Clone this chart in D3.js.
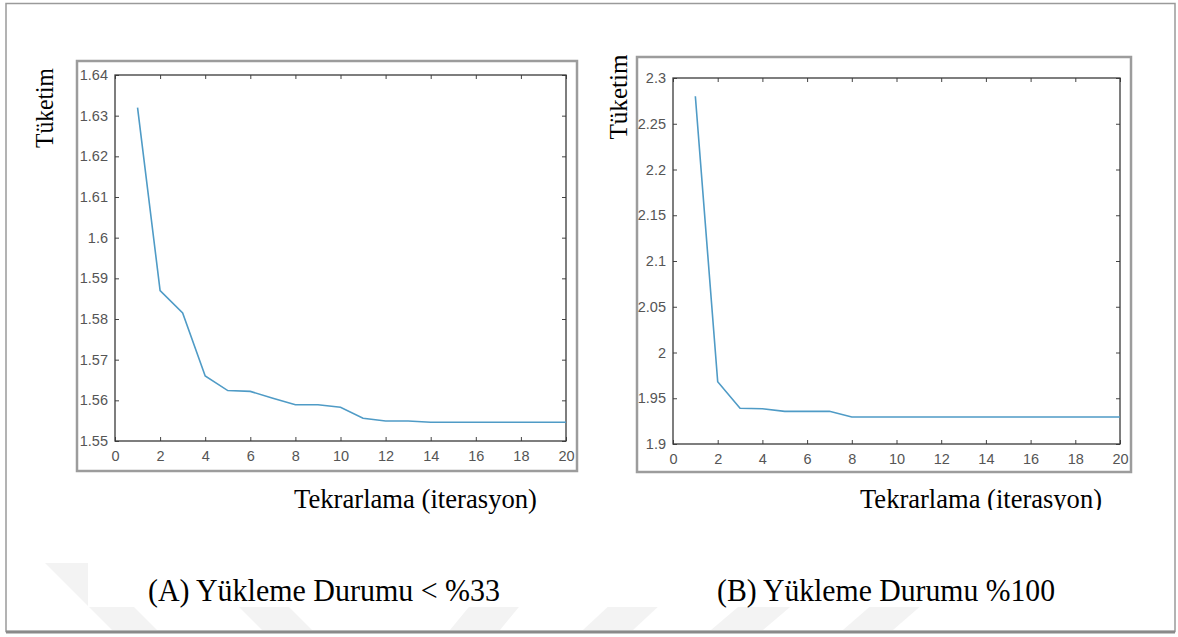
<!DOCTYPE html>
<meta charset="utf-8">
<script src="https://d3js.org/d3.v7.min.js"></script>
<style>
  body { margin: 0; background: #fff; }
  .tick text { font-family: "Liberation Sans", Arial, sans-serif; font-size: 14.5px; fill: #555; }
  .tick line { stroke: #444; }
</style>
<div id="chart"></div>
<script>
// values
var iterations = [1, 2, 3, 4, 5, 6, 7, 8, 9, 10, 11, 12, 13, 14, 15, 16, 17, 18, 19, 20];
var consumptionLow = [1.632, 1.587, 1.5815, 1.566, 1.5624, 1.5622, 1.5605, 1.5589, 1.5589, 1.5583,
                      1.5556, 1.5549, 1.5549, 1.5546, 1.5546, 1.5546, 1.5546, 1.5546, 1.5546, 1.5546];
var consumptionFull = [2.28, 1.968, 1.939, 1.9385, 1.9357, 1.9357, 1.9357, 1.9295, 1.9295, 1.9295,
                       1.9295, 1.9295, 1.9295, 1.9295, 1.9295, 1.9295, 1.9295, 1.9295, 1.9295, 1.9295];
var xTicks = [0, 2, 4, 6, 8, 10, 12, 14, 16, 18, 20];
var yTicksLow = [1.55, 1.56, 1.57, 1.58, 1.59, 1.6, 1.61, 1.62, 1.63, 1.64];
var yTicksFull = [1.9, 1.95, 2, 2.05, 2.1, 2.15, 2.2, 2.25, 2.3];
var yLabel = "Tüketim";
var xLabel = "Tekrarlama (iterasyon)";
var captions = ["(A) Yükleme Durumu < %33", "(B) Yükleme Durumu %100"];

var W = 1178, H = 637;
var serifFont = "'Liberation Serif', 'Times New Roman', serif";

var svg = d3.select("#chart")
  .append("svg")
    .attr("width", W)
    .attr("height", H);

// page frame
svg.append("rect")
  .attr("x", 6).attr("y", 3.5)
  .attr("width", 1169).attr("height", 628)
  .attr("fill", "#fff")
  .attr("stroke", "#9a9a9a")
  .attr("stroke-width", 1.5);
svg.append("line")
  .attr("x1", 6).attr("x2", 1175)
  .attr("y1", 632).attr("y2", 632)
  .attr("stroke", "#8a8a8a")
  .attr("stroke-width", 3);

// faint watermark stripes at the bottom
var wm = svg.append("g").attr("fill", "#f3f3f3");
var stripes = [
  [[45, 563], [90, 563], [157, 630], [112, 630]],
  [[195, 563], [245, 563], [312, 630], [262, 630]],
  [[505, 563], [555, 563], [500, 630], [450, 630]],
  [[655, 563], [705, 563], [633, 630], [583, 630]],
  [[790, 563], [842, 563], [763, 630], [711, 630]],
  [[920, 563], [970, 563], [893, 630], [843, 630]]
];
wm.selectAll("polygon")
  .data(stripes)
  .enter()
  .append("polygon")
    .attr("points", function(d){ return d.map(function(p){ return p.join(","); }).join(" "); });
// white band behind the captions
svg.append("rect")
  .attr("x", 88).attr("y", 562)
  .attr("width", 1080).attr("height", 45)
  .attr("fill", "#fff");

function drawPanel(cfg) {
  var g = svg.append("g");

  // figure box
  g.append("rect")
    .attr("x", cfg.box[0]).attr("y", cfg.box[1])
    .attr("width", cfg.box[2]).attr("height", cfg.box[3])
    .attr("fill", "#fff")
    .attr("stroke", "#9c9c9c")
    .attr("stroke-width", 2.5);

  var x = d3.scaleLinear().domain([0, 20]).range([cfg.plot[0], cfg.plot[1]]);
  var y = d3.scaleLinear().domain(cfg.yDomain).range([cfg.plot[3], cfg.plot[2]]);

  var fmt = function(d){ return String(d); };

  g.append("g")
    .attr("transform", "translate(0," + cfg.plot[3] + ")")
    .call(d3.axisBottom(x).tickValues(xTicks).tickFormat(fmt).tickSizeInner(-4).tickSizeOuter(0).tickPadding(10))
    .call(function(a){ a.select(".domain").remove(); });
  g.append("g")
    .attr("transform", "translate(0," + cfg.plot[2] + ")")
    .call(d3.axisTop(x).tickValues(xTicks).tickFormat("").tickSizeInner(-4).tickSizeOuter(0))
    .call(function(a){ a.select(".domain").remove(); });
  g.append("g")
    .attr("transform", "translate(" + cfg.plot[0] + ",0)")
    .call(d3.axisLeft(y).tickValues(cfg.yTicks).tickFormat(fmt).tickSizeInner(-4).tickSizeOuter(0).tickPadding(7))
    .call(function(a){ a.select(".domain").remove(); });
  g.append("g")
    .attr("transform", "translate(" + cfg.plot[1] + ",0)")
    .call(d3.axisRight(y).tickValues(cfg.yTicks).tickFormat("").tickSizeInner(-4).tickSizeOuter(0))
    .call(function(a){ a.select(".domain").remove(); });

  // plot box
  g.append("rect")
    .attr("x", cfg.plot[0]).attr("y", cfg.plot[2])
    .attr("width", cfg.plot[1] - cfg.plot[0]).attr("height", cfg.plot[3] - cfg.plot[2])
    .attr("fill", "none")
    .attr("stroke", "#3a3a3a")
    .attr("stroke-width", 1.3);

  var line = d3.line()
    .x(function(d, i){ return x(iterations[i]); })
    .y(function(d){ return y(d); });

  g.append("path")
    .datum(cfg.values)
    .attr("d", line)
    .attr("fill", "none")
    .attr("stroke", "#4f9bc6")
    .attr("stroke-width", 1.6);

  // y label
  g.append("text")
    .attr("transform", "translate(" + cfg.yLab[0] + "," + cfg.yLab[1] + ") rotate(-90)")
    .attr("text-anchor", "middle")
    .style("font-family", serifFont)
    .style("font-size", "25px")
    .attr("fill", "#000")
    .attr("textLength", cfg.yLab[2])
    .attr("lengthAdjust", "spacingAndGlyphs")
    .text(yLabel);

  // x label (clipped at the bottom on the right panel)
  var xl = g.append("text")
    .attr("x", cfg.xLab[0]).attr("y", cfg.xLab[1])
    .style("font-family", serifFont)
    .style("font-size", "28px")
    .attr("fill", "#000")
    .attr("textLength", cfg.xLab[2])
    .attr("lengthAdjust", "spacingAndGlyphs")
    .text(xLabel);
  if (cfg.clipY) {
    var id = "clip" + cfg.id;
    svg.append("clipPath").attr("id", id)
      .append("rect").attr("x", 0).attr("y", 0).attr("width", W).attr("height", cfg.clipY);
    xl.attr("clip-path", "url(#" + id + ")");
  }

  // caption
  g.append("text")
    .attr("x", cfg.cap[0]).attr("y", cfg.cap[1])
    .style("font-family", serifFont)
    .style("font-size", "32px")
    .attr("fill", "#000")
    .attr("textLength", cfg.cap[2])
    .attr("lengthAdjust", "spacingAndGlyphs")
    .text(cfg.caption);
}

drawPanel({
  id: "A",
  box: [77, 61, 500, 410],
  plot: [115, 566, 75, 441],
  yDomain: [1.55, 1.64],
  yTicks: yTicksLow,
  values: consumptionLow,
  yLab: [53, 108, 80],
  xLab: [294, 508, 243],
  cap: [148, 601, 352],
  caption: captions[0]
});

drawPanel({
  id: "B",
  box: [637, 57, 494, 415],
  plot: [673, 1120, 78, 444],
  yDomain: [1.9, 2.3],
  yTicks: yTicksFull,
  values: consumptionFull,
  yLab: [627, 97, 85],
  xLab: [860, 508, 242],
  clipY: 510,
  cap: [717, 601, 338],
  caption: captions[1]
});
</script>
